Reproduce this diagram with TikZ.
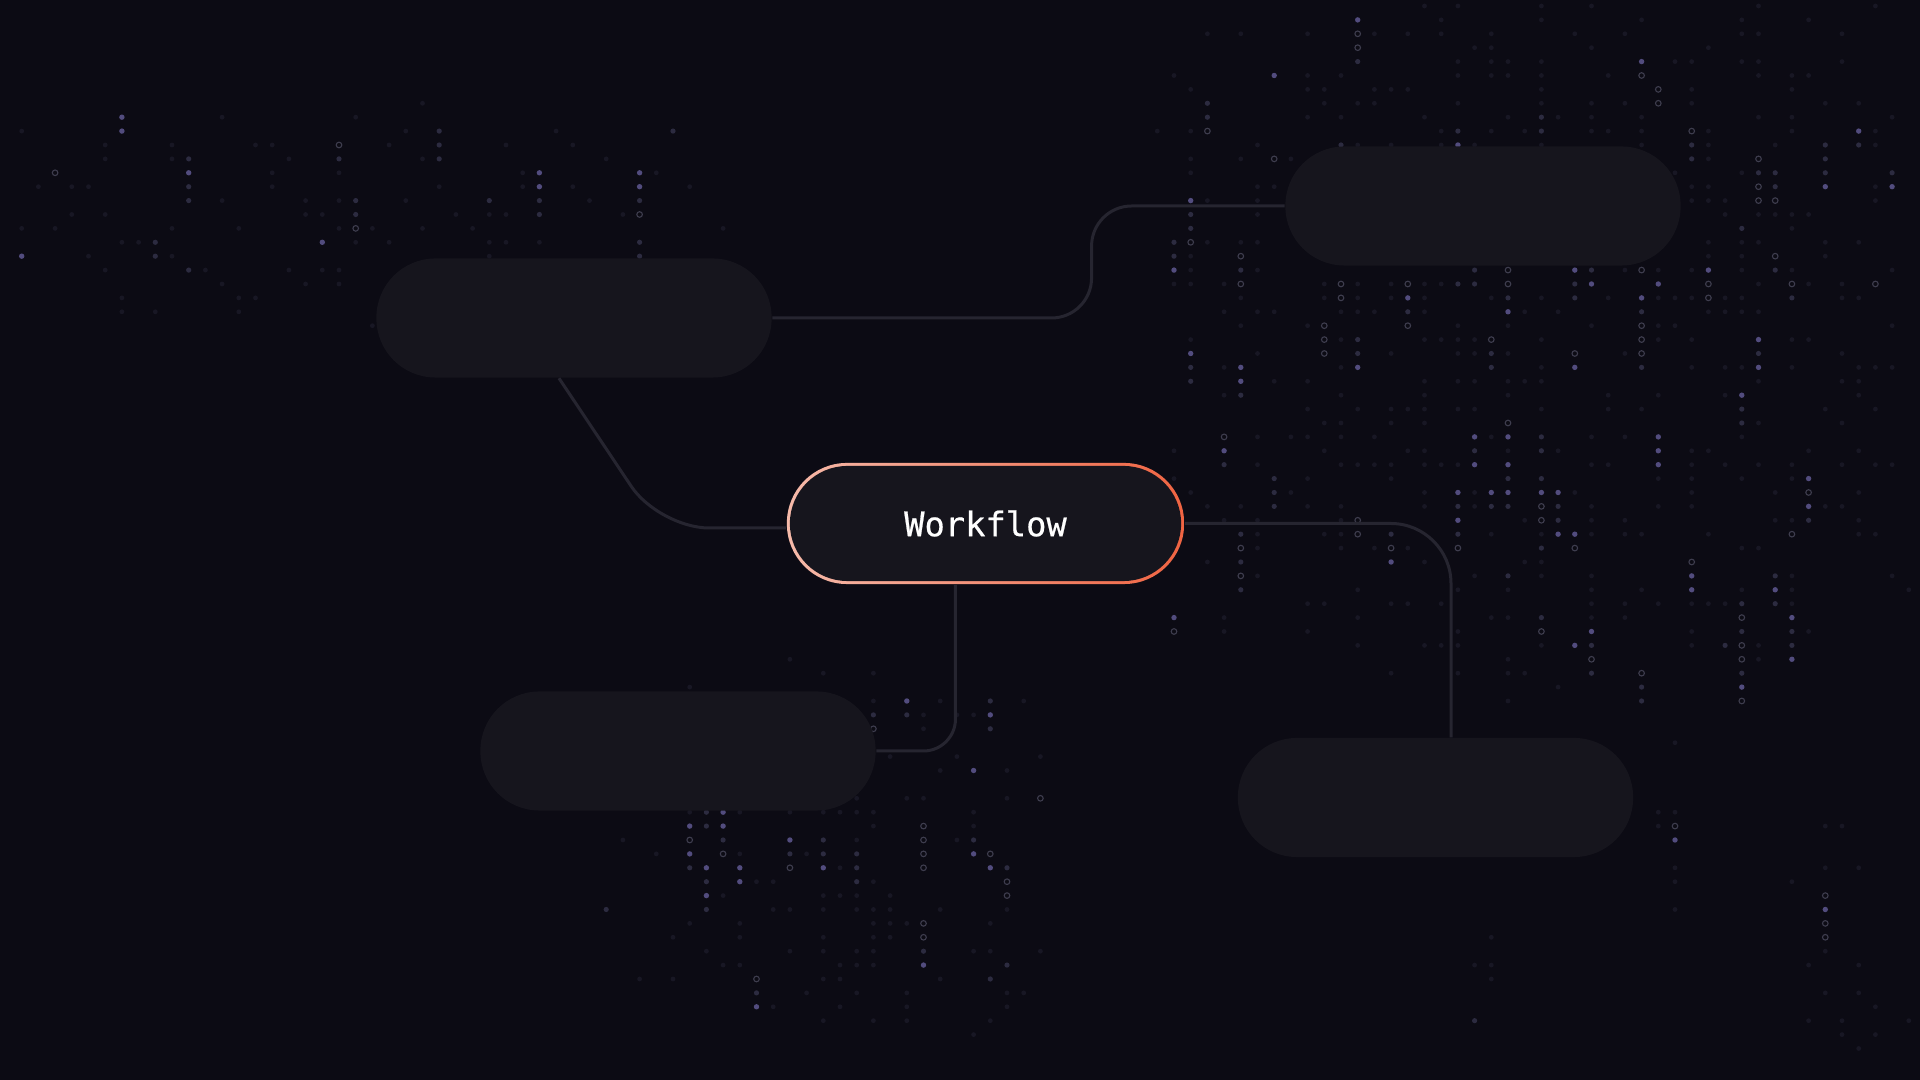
\documentclass[tikz,border=0pt]{standalone}
\usepackage{fontspec}
\setmonofont[FakeBold=0.6]{DejaVu Sans Mono}
\usetikzlibrary{positioning,calc}
\definecolor{bgnavy}{RGB}{12,11,20}
\definecolor{pillfill}{RGB}{22,21,29}
\definecolor{wirecol}{RGB}{38,37,48}
\definecolor{wfpink}{RGB}{246,186,170}
\definecolor{wforange}{RGB}{240,100,66}
\definecolor{dotbright}{RGB}{82,76,126}
\definecolor{dotmid}{RGB}{44,43,64}
\definecolor{dotdim}{RGB}{24,23,36}
\definecolor{dotring}{RGB}{62,61,78}
\tikzset{ %pills and wires
    pill/.style={rectangle, fill=pillfill, minimum width=3.95cm, minimum height=1.19cm, rounded corners=0.59cm, inner sep=0pt},
    wfnode/.style={rectangle, fill=pillfill, minimum width=3.97cm, minimum height=1.21cm, rounded corners=0.6cm, inner sep=0pt,
        text=white, font=\ttfamily\fontsize{9.6}{11}\selectfont,
        path picture={
            \shade[sharp corners, left color=wfpink, right color=wforange] (path picture bounding box.south west) rectangle (path picture bounding box.north east);
            \fill[pillfill, rounded corners=0.575cm] ([shift={(0.03cm,0.03cm)}]path picture bounding box.south west) rectangle ([shift={(-0.03cm,-0.03cm)}]path picture bounding box.north east);
        }},
    wire/.style={draw=wirecol, line width=0.03cm},
}
% dot rain: centre x, centre y, radius x, radius y, density
\newcommand\dotfield[5]{%
    \pgfmathtruncatemacro\dfia{max(0,floor((#1-#3)/16.7))}
    \pgfmathtruncatemacro\dfib{min(114,ceil((#1+#3)/16.7))}
    \pgfmathtruncatemacro\dfja{max(0,floor((#2-#4)/13.9))}
    \pgfmathtruncatemacro\dfjb{min(77,ceil((#2+#4)/13.9))}
    \foreach \i in {\dfia,...,\dfib}{
        \gdef\dfrun{0}
        \pgfmathsetmacro\dfcol{0.25+0.75*rnd}
        \foreach \j in {\dfja,...,\dfjb}{
            \pgfmathsetmacro\dfx{5+16.7*\i}
            \pgfmathsetmacro\dfy{6+13.9*\j}
            \pgfmathsetmacro\dfu{(\dfx-#1)/#3}
            \pgfmathsetmacro\dfv{(\dfy-#2)/#4}
            \pgfmathsetmacro\dfw{max(0,1-\dfu*\dfu*\dfu*\dfu-\dfv*\dfv*\dfv*\dfv)*#5*\dfcol}
            \pgfmathsetmacro\dfta{0.09*\dfw}
            \pgfmathsetmacro\dftb{0.55*\dfw}
            \pgfmathsetmacro\dfr{rnd}
            \ifnum\dfrun=0
                \ifdim\dfr pt<\dfta pt
                    \pgfmathtruncatemacro\dftmp{1+3.6*rnd}\global\let\dfrun\dftmp
                \else\ifdim\dfr pt<\dftb pt
                    \fill[dotdim] (\dfx,\dfy) circle (0.024cm);
                \fi\fi
            \fi
            \ifnum\dfrun>0
                \pgfmathtruncatemacro\dfcls{3.3*rnd}
                \ifcase\dfcls
                    \fill[dotbright] (\dfx,\dfy) circle (0.027cm);
                \or
                    \draw[dotring, line width=0.011cm] (\dfx,\dfy) circle (0.028cm);
                \else
                    \fill[dotmid] (\dfx,\dfy) circle (0.026cm);
                \fi
                \pgfmathtruncatemacro\dftmp{\dfrun-1}\global\let\dfrun\dftmp
            \fi
        }
    }
}

\begin{document}
\begin{tikzpicture}[x=0.01cm, y=-0.01cm]
    \useasboundingbox (0,0) rectangle (1920,1080);
    \fill[bgnavy] (0,0) rectangle (1920,1080);
    \pgfmathsetseed{42}
    \dotfield{330}{215}{400}{120}{0.55}
    \dotfield{1540}{330}{420}{380}{1.0}
    \dotfield{840}{845}{235}{200}{0.9}
    \dotfield{1870}{930}{90}{170}{0.6}
    \dotfield{1672}{820}{20}{110}{0.8}
    \dotfield{1488}{1000}{25}{80}{0.6}
    \dotfield{1702}{1000}{15}{40}{0.5}

    \node[pill] (pillnw) at (574,318) {};
    \node[pill] (pillne) at (1483,206) {};
    \node[pill] (pillsw) at (678,751) {};
    \node[pill] (pillse) at (1435.5,797.5) {};
    \node[wfnode] (wf) at (985.5,523.5) {Workflow};

    \draw[wire, rounded corners=0.4cm] (pillnw.east) -| ([xshift=-1.93cm]pillne.west) -- (pillne.west);
    \draw[wire, rounded corners=0.5cm] ([xshift=-0.15cm]pillnw.south) -- ([xshift=-1.27cm,yshift=-0.045cm]wf.west) -- ([yshift=-0.045cm]wf.west);
    \draw[wire, rounded corners=0.6cm] (wf.east) -| ([xshift=0.155cm]pillse.north);
    \draw[wire, rounded corners=0.32cm] ([xshift=-0.3cm]wf.south) |- (pillsw.east);
\end{tikzpicture}
\end{document}
